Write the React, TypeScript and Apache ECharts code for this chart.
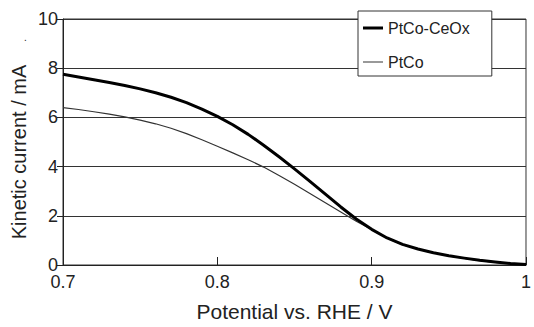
import React, { useEffect, useRef } from "react";
import * as echarts from "echarts";

const potentials = [
  0.70, 0.71, 0.72, 0.73, 0.74, 0.75, 0.76, 0.77, 0.78, 0.79,
  0.80, 0.81, 0.82, 0.83, 0.84, 0.85, 0.86, 0.87, 0.88, 0.89,
  0.90, 0.91, 0.92, 0.93, 0.94, 0.95, 0.96, 0.97, 0.98, 0.99, 1.00,
];
const ptCoCeOx = [
  7.75, 7.64, 7.53, 7.42, 7.30, 7.16, 7.00, 6.82, 6.60, 6.34,
  6.04, 5.70, 5.31, 4.87, 4.40, 3.91, 3.40, 2.88, 2.36, 1.87,
  1.45, 1.10, 0.84, 0.65, 0.50, 0.38, 0.28, 0.19, 0.12, 0.06, 0.02,
];
const ptCo = [
  6.40, 6.32, 6.23, 6.13, 6.02, 5.89, 5.74, 5.56, 5.34, 5.09,
  4.83, 4.56, 4.28, 3.98, 3.64, 3.28, 2.91, 2.53, 2.15, 1.78,
  1.44, 1.09, 0.83, 0.64, 0.49, 0.37, 0.27, 0.18, 0.11, 0.05, 0.02,
];
const seriesNames = ["PtCo-CeOx", "PtCo"];
const xTicks = { min: 0.7, max: 1.0, interval: 0.1 };
const yTicks = { min: 0, max: 10, interval: 2 };

const FONT = "Liberation Sans, Arial, sans-serif";
const TXT = "#222";

export default function App() {
  const ref = useRef<HTMLDivElement>(null);
  useEffect(() => {
    if (!ref.current) return;
    const chart = echarts.init(ref.current, null, { renderer: "svg" });
    chart.setOption({
      animation: false,
      backgroundColor: "#fff",
      textStyle: { fontFamily: FONT },
      grid: {
        left: 63,
        right: 3,
        top: 19,
        bottom: 58,
        show: true,
        borderColor: "#333",
        borderWidth: 1,
        backgroundColor: "transparent",
      },
      legend: {
        left: 358,
        top: 11,
        orient: "vertical",
        backgroundColor: "#fff",
        borderColor: "#333",
        borderWidth: 1,
        borderRadius: 0,
        padding: [9, 22, 6, 5],
        itemWidth: 20,
        itemHeight: 14,
        itemGap: 18,
        textStyle: { fontFamily: FONT, fontSize: 16, color: TXT },
        data: [
          { name: seriesNames[0], icon: "path://M0,0 H20 V3 H0 Z" },
          { name: seriesNames[1], icon: "path://M0,0 H20 V1 H0 Z" },
        ],
      },
      xAxis: {
        type: "value",
        min: xTicks.min,
        max: xTicks.max,
        interval: xTicks.interval,
        name: "Potential vs. RHE / V",
        nameLocation: "middle",
        nameGap: 36,
        nameTextStyle: { fontFamily: FONT, fontSize: 21, color: TXT },
        axisLine: { show: true, lineStyle: { color: "#222", width: 1 } },
        axisTick: { show: true, inside: true, length: 8, lineStyle: { color: "#222" } },
        axisLabel: {
          fontFamily: FONT,
          fontSize: 18,
          color: TXT,
          margin: 8,
          formatter: (v: number) => (Math.abs(v - 1) < 1e-9 ? "1" : v.toFixed(1)),
        },
        splitLine: { show: false },
      },
      yAxis: {
        type: "value",
        min: yTicks.min,
        max: yTicks.max,
        interval: yTicks.interval,
        axisLine: { show: true, lineStyle: { color: "#222", width: 1 } },
        axisTick: { show: true, inside: false, length: 6, lineStyle: { color: "#222" } },
        axisLabel: { fontFamily: FONT, fontSize: 18, color: TXT, margin: 5 },
        splitLine: { show: true, lineStyle: { color: "#333", width: 1 } },
      },
      graphic: [
        {
          type: "text",
          x: 19,
          y: 152,
          rotation: Math.PI / 2,
          style: {
            text: "Kinetic current / mA",
            fontFamily: FONT,
            fontSize: 20,
            fill: TXT,
            align: "center",
            verticalAlign: "middle",
          },
        },
        {
          type: "text",
          x: 24,
          y: 32,
          style: { text: ".", fontFamily: FONT, fontSize: 10, fill: TXT },
        },
      ],
      series: [
        {
          name: seriesNames[0],
          type: "line",
          smooth: false,
          symbol: "none",
          lineStyle: { color: "#000", width: 3, join: "round" },
          itemStyle: { color: "#000" },
          data: potentials.map((p, i) => [p, ptCoCeOx[i]]),
          z: 3,
        },
        {
          name: seriesNames[1],
          type: "line",
          smooth: false,
          symbol: "none",
          lineStyle: { color: "#333", width: 1.2, join: "round" },
          itemStyle: { color: "#333" },
          data: potentials.map((p, i) => [p, ptCo[i]]),
          z: 2,
        },
      ],
    });
    return () => chart.dispose();
  }, []);
  return (
    <div
      ref={ref}
      style={{ position: "fixed", left: 0, top: 0, width: 534, height: 327 }}
    />
  );
}
